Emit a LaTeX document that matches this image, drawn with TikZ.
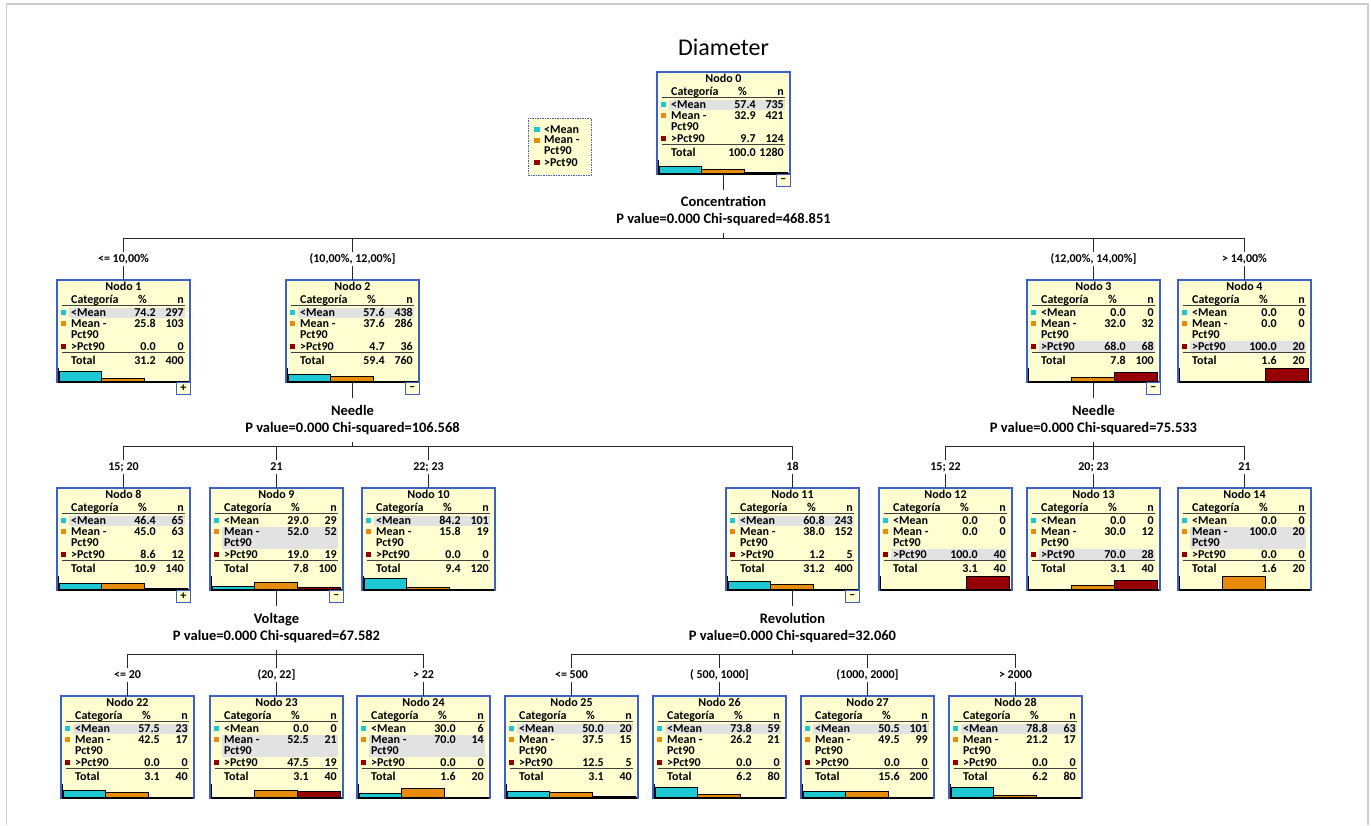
\documentclass[tikz,border=0pt]{standalone}
\usepackage{fontspec}
\setmainfont{Carlito}
\definecolor{nbyellow}{RGB}{255,254,208}
\definecolor{nbblue}{RGB}{60,95,200}
\definecolor{cyanc}{RGB}{30,200,210}
\definecolor{orangec}{RGB}{232,140,16}
\definecolor{redc}{RGB}{150,0,0}
\definecolor{hlgray}{RGB}{226,226,226}
\definecolor{framegray}{RGB}{205,205,205}
\tikzset{
 nbox/.style={draw=nbblue, fill=nbyellow, line width=1.1pt, minimum width=133pt, minimum height=102pt, inner sep=0pt, outer sep=0pt, anchor=north west},
 nt/.style={font=\fontsize{12}{14}\selectfont\bfseries, inner sep=0pt},
 rulel/.style={draw=black!75, line width=1.4pt},
 axisl/.style={draw=black, line width=1.4pt},
 barb/.style={draw=black, line width=0.7pt},
 btn/.style={draw=nbblue, fill=nbyellow, line width=1pt},
 conn/.style={draw=black!85, line width=1pt},
 brlab/.style={font=\fontsize{12}{14}\selectfont\bfseries, fill=white, inner xsep=1pt, inner ysep=2pt, text height=8pt, text depth=2pt},
 split/.style={font=\fontsize{14.5}{17}\selectfont\bfseries, align=center, inner xsep=2pt, inner ysep=7pt},
 legbox/.style={draw=nbblue, dash pattern=on 1.5pt off 1pt, fill=nbyellow, line width=1pt, minimum width=63pt, minimum height=57pt, inner sep=0pt},
}
\newcommand\NB[9]{\def\nbname{#1}\def\nbx{#2}\def\nby{#3}\def\nbtitle{#4}\def\nbhl{#5}\def\nbpa{#6}\def\nbna{#7}\def\nbpb{#8}\def\nbnb{#9}\NBcont}
\newcommand\NBcont[5]{%
 \node[nbox] (\nbname) at (\nbx,-\nby) {};
 \begin{scope}[shift={(\nbx,-\nby)}]
  \ifnum\nbhl=1 \fill[hlgray] (12,-27.5) rectangle (128,-38);\fi
  \ifnum\nbhl=2 \fill[hlgray] (12,-38.5) rectangle (128,-60.5);\fi
  \ifnum\nbhl=3 \fill[hlgray] (12,-61) rectangle (128,-71.5);\fi
  \node[nt, anchor=base] at (66.5,-10.5) {\nbtitle};
  \node[nt, anchor=base west] at (14,-23.5) {Categoría};
  \node[nt, anchor=base] at (85.5,-23.5) {\%};
  \node[nt, anchor=base east] at (127,-23.5) {n};
  \draw[rulel] (5,-25.5) -- (128,-25.5);
  \fill[cyanc] (4,-30) rectangle (9,-35);
  \node[nt, anchor=base west] at (14,-36.5) {<Mean};
  \node[nt, anchor=base east] at (99,-36.5) {\nbpa};
  \node[nt, anchor=base east] at (127,-36.5) {\nbna};
  \fill[orangec] (4,-41) rectangle (9,-46);
  \node[nt, anchor=base west] at (14,-47.5) {Mean -};
  \node[nt, anchor=base east] at (99,-47.5) {\nbpb};
  \node[nt, anchor=base east] at (127,-47.5) {\nbnb};
  \node[nt, anchor=base west] at (14,-58.5) {Pct90};
  \fill[redc] (4,-63.5) rectangle (9,-68.5);
  \node[nt, anchor=base west] at (14,-70) {>Pct90};
  \node[nt, anchor=base east] at (99,-70) {#1};
  \node[nt, anchor=base east] at (127,-70) {#2};
  \draw[rulel] (5,-72.5) -- (128,-72.5);
  \node[nt, anchor=base west] at (14,-84) {Total};
  \node[nt, anchor=base east] at (99,-84) {#3};
  \node[nt, anchor=base east] at (127,-84) {#4};
  \filldraw[barb, fill=cyanc] (2,-102) rectangle (44,{-102+0.14*\nbpa});
  \filldraw[barb, fill=orangec] (44,-102) rectangle (87,{-102+0.14*\nbpb});
  \filldraw[barb, fill=redc] (87,-102) rectangle (130,{-102+0.14*#1});
  \draw[axisl] (1.2,-88) -- (1.2,-102) -- (132,-102);
  \def\nbbtn{#5}%
  \ifx\nbbtn\empty\else
   \draw[btn] (119.5,-102.5) rectangle (133,-114.5);
   \node[nt] at (126.25,-108.3) {#5};
  \fi
 \end{scope}}
\begin{document}
\begin{tikzpicture}[x=1pt,y=1pt]
\useasboundingbox (0,0) rectangle (1371,-825);
\draw[framegray, line width=1.5pt] (6.5,-825) -- (6.5,-4) -- (1368,-4) -- (1368,-825);

\node[font=\fontsize{24}{28}\selectfont] (title) at (723.5,-47) {Diameter};

% legend
\node[legbox] (leg) at (559.5,-146.5) {};
\fill[cyanc] (534,-126.5) rectangle (539.5,-131.5);
\node[nt, anchor=base west] (lga) at (544,-133) {<Mean};
\fill[orangec] (534,-137.5) rectangle (539.5,-142.5);
\node[nt, anchor=base west] (lgb) at (544,-143.8) {Mean -};
\node[nt, anchor=base west] (lgc) at (544,-154.5) {Pct90};
\fill[redc] (534,-159.5) rectangle (539.5,-164.5);
\node[nt, anchor=base west] (lgd) at (544,-166) {>Pct90};

% tree nodes
\NB{n0}{657}{72}{Nodo 0}{1}{57.4}{735}{32.9}{421}{9.7}{124}{100.0}{1280}{–}
\NB{n1}{57}{280}{Nodo 1}{1}{74.2}{297}{25.8}{103}{0.0}{0}{31.2}{400}{+}
\NB{n2}{286}{280}{Nodo 2}{1}{57.6}{438}{37.6}{286}{4.7}{36}{59.4}{760}{–}
\NB{n3}{1027}{280}{Nodo 3}{3}{0.0}{0}{32.0}{32}{68.0}{68}{7.8}{100}{–}
\NB{n4}{1178}{280}{Nodo 4}{3}{0.0}{0}{0.0}{0}{100.0}{20}{1.6}{20}{}
\NB{n8}{57}{488}{Nodo 8}{1}{46.4}{65}{45.0}{63}{8.6}{12}{10.9}{140}{+}
\NB{n9}{210}{488}{Nodo 9}{2}{29.0}{29}{52.0}{52}{19.0}{19}{7.8}{100}{–}
\NB{n10}{362}{488}{Nodo 10}{1}{84.2}{101}{15.8}{19}{0.0}{0}{9.4}{120}{}
\NB{n11}{726}{488}{Nodo 11}{1}{60.8}{243}{38.0}{152}{1.2}{5}{31.2}{400}{–}
\NB{n12}{879}{488}{Nodo 12}{3}{0.0}{0}{0.0}{0}{100.0}{40}{3.1}{40}{}
\NB{n13}{1027}{488}{Nodo 13}{3}{0.0}{0}{30.0}{12}{70.0}{28}{3.1}{40}{}
\NB{n14}{1178}{488}{Nodo 14}{2}{0.0}{0}{100.0}{20}{0.0}{0}{1.6}{20}{}
\NB{n22}{61}{696}{Nodo 22}{1}{57.5}{23}{42.5}{17}{0.0}{0}{3.1}{40}{}
\NB{n23}{210}{696}{Nodo 23}{2}{0.0}{0}{52.5}{21}{47.5}{19}{3.1}{40}{}
\NB{n24}{357}{696}{Nodo 24}{2}{30.0}{6}{70.0}{14}{0.0}{0}{1.6}{20}{}
\NB{n25}{505}{696}{Nodo 25}{1}{50.0}{20}{37.5}{15}{12.5}{5}{3.1}{40}{}
\NB{n26}{653}{696}{Nodo 26}{1}{73.8}{59}{26.2}{21}{0.0}{0}{6.2}{80}{}
\NB{n27}{801}{696}{Nodo 27}{1}{50.5}{101}{49.5}{99}{0.0}{0}{15.6}{200}{}
\NB{n28}{949}{696}{Nodo 28}{1}{78.8}{63}{21.2}{17}{0.0}{0}{6.2}{80}{}

% split texts and bus joints
\node[split] (s0) at ([yshift=-37.5pt]n0.south) {Concentration\\P value=0.000 Chi-squared=468.851};
\node[split] (s2) at ([yshift=-38pt]n2.south) {Needle\\P value=0.000 Chi-squared=106.568};
\node[split] (s3) at ([yshift=-38pt]n3.south) {Needle\\P value=0.000 Chi-squared=75.533};
\node[split] (s9) at ([yshift=-38pt]n9.south) {Voltage\\P value=0.000 Chi-squared=67.582};
\node[split] (s11) at ([yshift=-38pt]n11.south) {Revolution\\P value=0.000 Chi-squared=32.060};
\foreach \p in {0,2,3,9,11} {\coordinate (b\p) at ([yshift=-64pt]n\p.south);}

% branch labels
\node[brlab] (l1) at ([yshift=21pt]n1.north) {<= 10,00\%};
\node[brlab] (l2) at ([yshift=21pt]n2.north) {(10,00\%, 12,00\%]};
\node[brlab] (l3) at ([yshift=21pt]n3.north) {(12,00\%, 14,00\%]};
\node[brlab] (l4) at ([yshift=21pt]n4.north) {> 14,00\%};
\node[brlab] (l8) at ([yshift=21pt]n8.north) {15; 20};
\node[brlab] (l9) at ([yshift=21pt]n9.north) {21};
\node[brlab] (l10) at ([yshift=21pt]n10.north) {22; 23};
\node[brlab] (l11) at ([yshift=21pt]n11.north) {18};
\node[brlab] (l12) at ([yshift=21pt]n12.north) {15; 22};
\node[brlab] (l13) at ([yshift=21pt]n13.north) {20; 23};
\node[brlab] (l14) at ([yshift=21pt]n14.north) {21};
\node[brlab] (l22) at ([yshift=21pt]n22.north) {<= 20};
\node[brlab] (l23) at ([yshift=21pt]n23.north) {(20, 22]};
\node[brlab] (l24) at ([yshift=21pt]n24.north) {> 22};
\node[brlab] (l25) at ([yshift=21pt]n25.north) {<= 500};
\node[brlab] (l26) at ([yshift=21pt]n26.north) {( 500, 1000]};
\node[brlab] (l27) at ([yshift=21pt]n27.north) {(1000, 2000]};
\node[brlab] (l28) at ([yshift=21pt]n28.north) {> 2000};

% connectors
\foreach \p/\kids in {0/{1,2,3,4}, 2/{8,9,10,11}, 3/{12,13,14}, 9/{22,23,24}, 11/{25,26,27,28}} {
  \draw[conn] (n\p.south) -- (s\p.north);
  \draw[conn] (s\p.south) -- (b\p);
  \foreach \c in \kids {
    \draw[conn] (b\p) -| (l\c.north);
    \draw[conn] (l\c.south) -- (n\c.north);
  }
}
\end{tikzpicture}
\end{document}
